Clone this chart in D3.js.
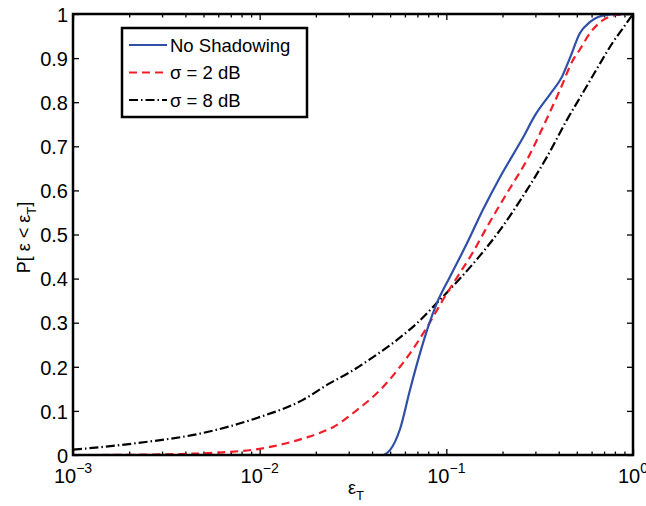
<!DOCTYPE html>
<html>
<head>
<meta charset="utf-8">
<script src="https://cdn.jsdelivr.net/npm/d3@7"></script>
<style>
  html, body { margin: 0; padding: 0; background: #fff; }
  text { font-family: "Liberation Sans", Arial, Helvetica, sans-serif; fill: #000; }
</style>
</head>
<body>
<svg id="chart" width="646" height="506"></svg>
<script>
// ---- data ----
const seriesNames = ["No Shadowing", "\u03c3 = 2 dB", "\u03c3 = 8 dB"];

const noShadowX = [0.0463, 0.0499, 0.0565, 0.0638, 0.0723, 0.0798, 0.0891, 0.1046, 0.129, 0.157, 0.1938, 0.2576, 0.2985, 0.359, 0.4168, 0.459, 0.52, 0.589, 0.726, 1.0];
const noShadowY = [0, 0.011, 0.059, 0.147, 0.231, 0.29, 0.345, 0.404, 0.48, 0.556, 0.63, 0.72, 0.77, 0.818, 0.858, 0.9, 0.957, 0.982, 0.998, 1.0];

const sigma2X = [0.0014, 0.0035, 0.0063, 0.01, 0.0179, 0.021, 0.0247, 0.0332, 0.0441, 0.0565, 0.0697, 0.0788, 0.1008, 0.1183, 0.139, 0.1651, 0.1892, 0.2193, 0.2704, 0.3296, 0.4064, 0.4775, 0.52, 0.589, 0.69, 0.821, 1.0];
const sigma2Y = [0, 0.002, 0.006, 0.014, 0.04, 0.05, 0.063, 0.102, 0.147, 0.2, 0.254, 0.29, 0.367, 0.413, 0.46, 0.517, 0.56, 0.605, 0.669, 0.744, 0.828, 0.896, 0.92, 0.957, 0.986, 0.998, 1.0];

const sigma8X = [0.001, 0.0022, 0.00497, 0.00968, 0.01706, 0.0238, 0.0305, 0.0405, 0.0544, 0.0697, 0.0891, 0.1183, 0.1514, 0.1938, 0.2704, 0.346, 0.4426, 0.54, 0.641, 0.781, 0.884, 1.0];
const sigma8Y = [0.012, 0.027, 0.05, 0.084, 0.125, 0.163, 0.188, 0.222, 0.261, 0.299, 0.345, 0.40, 0.452, 0.51, 0.601, 0.676, 0.76, 0.822, 0.876, 0.936, 0.968, 1.0];

const xTickValues = [1e-3, 1e-2, 1e-1, 1];
const xTickBase = ["10", "10", "10", "10"];
const xTickExp = ["\u22123", "\u22122", "\u22121", "0"];
const yTickValues = [0, 0.1, 0.2, 0.3, 0.4, 0.5, 0.6, 0.7, 0.8, 0.9, 1];
const yTickLabels = ["0", "0.1", "0.2", "0.3", "0.4", "0.5", "0.6", "0.7", "0.8", "0.9", "1"];

// ---- layout ----
const W = 646, H = 506;
const m = { left: 73, top: 14, right: 13, bottom: 51 };
const iw = W - m.left - m.right, ih = H - m.top - m.bottom;

const svg = d3.select("#chart");
const g = svg.append("g").attr("transform", `translate(${m.left},${m.top})`);

const x = d3.scaleLog().domain([1e-3, 1]).range([0, iw]);
const y = d3.scaleLinear().domain([0, 1]).range([ih, 0]);

// minor ticks
const minor = [];
for (let e = -3; e < 0; e++) for (let k = 2; k <= 9; k++) minor.push(k * Math.pow(10, e));

function styleAxis(sel) {
  sel.select(".domain").remove();
  sel.selectAll(".tick line").attr("stroke", "#000").attr("stroke-width", 1.3);
}

// bottom major & minor
g.append("g").attr("transform", `translate(0,${ih})`)
  .call(d3.axisBottom(x).tickValues(xTickValues).tickSize(-6).tickFormat(""))
  .call(styleAxis);
g.append("g").attr("transform", `translate(0,${ih})`)
  .call(d3.axisBottom(x).tickValues(minor).tickSize(-3.5).tickFormat(""))
  .call(styleAxis);
// top
g.append("g")
  .call(d3.axisTop(x).tickValues(xTickValues).tickSize(-6).tickFormat(""))
  .call(styleAxis);
g.append("g")
  .call(d3.axisTop(x).tickValues(minor).tickSize(-3.5).tickFormat(""))
  .call(styleAxis);
// left
const yl = g.append("g")
  .call(d3.axisLeft(y).tickValues(yTickValues).tickSize(-6).tickPadding(5)
    .tickFormat((d, i) => yTickLabels[i]))
  .call(styleAxis);
yl.selectAll(".tick text").attr("font-size", 20).attr("dy", "0.36em")
  .style("font-family", "'Liberation Sans', Arial, sans-serif");
// right
g.append("g").attr("transform", `translate(${iw},0)`)
  .call(d3.axisRight(y).tickValues(yTickValues).tickSize(-6).tickFormat(""))
  .call(styleAxis);

// x tick labels with superscript
xTickValues.forEach((v, i) => {
  const t = g.append("text")
    .attr("x", x(v)).attr("y", ih + 28)
    .attr("text-anchor", "middle")
    .attr("font-size", 20);
  t.append("tspan").text(xTickBase[i]);
  t.append("tspan").attr("font-size", 14).attr("dy", -10).text(xTickExp[i]);
});

// curves
const line = d3.line()
  .x(d => x(d[0])).y(d => y(d[1]))
  .curve(d3.curveMonotoneX);

svg.append("defs").append("clipPath").attr("id", "clip")
  .append("rect").attr("x", -2).attr("y", -2).attr("width", iw + 4).attr("height", ih + 4);

const series = [
  { xs: sigma8X, ys: sigma8Y, color: "#000000", dash: "9,3,1.5,3" },
  { xs: sigma2X, ys: sigma2Y, color: "#f01e28", dash: "8,5" },
  { xs: noShadowX, ys: noShadowY, color: "#2f4fa8", dash: null }
];
const plot = g.append("g").attr("clip-path", "url(#clip)");
series.forEach(s => {
  const pts = s.xs.map((v, i) => [v, s.ys[i]]);
  plot.append("path").datum(pts)
    .attr("d", line)
    .attr("fill", "none")
    .attr("stroke", s.color)
    .attr("stroke-width", 2.2)
    .attr("stroke-dasharray", s.dash);
});

// axes box
g.append("rect").attr("x", 0).attr("y", 0).attr("width", iw).attr("height", ih)
  .attr("fill", "none").attr("stroke", "#000").attr("stroke-width", 2.5);

// legend
const legendItems = [
  { name: seriesNames[0], color: "#2f4fa8", dash: null },
  { name: seriesNames[1], color: "#f01e28", dash: "8,5" },
  { name: seriesNames[2], color: "#000000", dash: "9,3,1.5,3" }
];
const lg = svg.append("g").attr("transform", "translate(122,28)");
lg.append("rect").attr("width", 185).attr("height", 89)
  .attr("fill", "#fff").attr("stroke", "#000").attr("stroke-width", 2.5);
legendItems.forEach((it, i) => {
  const yy = 17 + i * 27.5;
  lg.append("line").attr("x1", 7).attr("x2", 45).attr("y1", yy).attr("y2", yy)
    .attr("stroke", it.color).attr("stroke-width", 2.2)
    .attr("stroke-dasharray", it.dash);
  lg.append("text").attr("x", 48).attr("y", yy).attr("dy", "0.36em")
    .attr("font-size", 18.5).text(it.name);
});

// axis labels
const xl = svg.append("text").attr("x", m.left + iw / 2 + 3).attr("y", 494)
  .attr("text-anchor", "middle").attr("font-size", 18);
xl.append("tspan").text("\u03b5");
xl.append("tspan").attr("font-size", 13).attr("dy", 6).text("T");

const ylab = svg.append("text")
  .attr("transform", `translate(30,${m.top + ih / 2 + 3}) rotate(-90)`)
  .attr("text-anchor", "middle").attr("font-size", 18);
ylab.append("tspan").text("P[ \u03b5 < \u03b5");
ylab.append("tspan").attr("font-size", 13).attr("dy", 6).text("T");
ylab.append("tspan").attr("dy", -6).text("]");
</script>
</body>
</html>
